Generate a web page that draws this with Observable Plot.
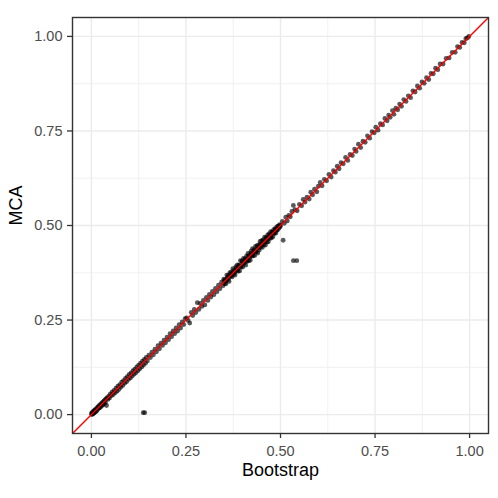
<!DOCTYPE html>
<html>
<head>
<meta charset="utf-8">
<script src="https://cdn.jsdelivr.net/npm/d3@7"></script>
<script src="https://cdn.jsdelivr.net/npm/@observablehq/plot@0.6"></script>
<style>
  html, body { margin: 0; padding: 0; background: #fff; }
  #chart svg { display: block; }
  #chart g[aria-label="x-axis tick label"], #chart g[aria-label="y-axis tick label"] { font-size: 14.5px; }
</style>
</head>
<body>
<div id="chart"></div>
<script>
// Estimated values (Bootstrap vs MCA), by stretch of the diagonal
const bootstrapA = [0.000,0.001,0.002,0.003,0.004,0.005,0.006,0.007,0.008,0.009,0.010,0.012,0.013,0.014,0.016,0.017,0.018,0.020,0.021,0.022,0.024,0.025,0.027,0.028,0.030,0.031,0.033,0.034,0.036,0.037,0.039,0.040,0.042,0.044,0.046,0.048];
const mcaA       = [0.003,0.000,0.005,0.001,0.007,0.003,0.009,0.004,0.011,0.006,0.013,0.008,0.016,0.010,0.019,0.014,0.021,0.017,0.024,0.018,0.027,0.021,0.030,0.024,0.033,0.026,0.036,0.029,0.039,0.032,0.042,0.024,0.045,0.040,0.049,0.044];

const bootstrapB = [0.050,0.053,0.055,0.058,0.060,0.063,0.065,0.068,0.070,0.073,0.075,0.078,0.080,0.083,0.085,0.088,0.090,0.093,0.095,0.098,0.100,0.103,0.105,0.108,0.110,0.113,0.115,0.118,0.120,0.123,0.125,0.128,0.130,0.133,0.135,0.138,0.140,0.143,0.145,0.148];
const mcaB       = [0.055,0.050,0.060,0.053,0.064,0.058,0.070,0.062,0.075,0.067,0.079,0.073,0.086,0.077,0.090,0.083,0.096,0.087,0.100,0.093,0.106,0.097,0.110,0.102,0.116,0.107,0.120,0.111,0.126,0.116,0.131,0.121,0.136,0.126,0.141,0.131,0.146,0.136,0.151,0.142];

const bootstrapC = [0.152,0.156,0.160,0.164,0.168,0.172,0.176,0.180,0.184,0.188,0.192,0.196,0.200,0.204,0.208,0.212,0.216,0.220,0.224,0.228,0.232,0.236,0.240,0.244,0.248,0.252,0.256,0.260,0.264,0.268,0.272,0.276,0.280,0.284,0.288,0.292,0.296,0.300,0.304,0.308,0.312,0.316,0.320,0.324,0.328,0.332,0.336,0.340,0.344,0.348];
const mcaC       = [0.157,0.151,0.165,0.158,0.173,0.166,0.182,0.174,0.189,0.183,0.197,0.190,0.205,0.198,0.214,0.206,0.221,0.214,0.229,0.221,0.238,0.229,0.245,0.238,0.254,0.256,0.249,0.242,0.270,0.262,0.278,0.270,0.296,0.278,0.294,0.286,0.302,0.290,0.310,0.302,0.318,0.311,0.326,0.317,0.334,0.325,0.342,0.333,0.350,0.341];

const bootstrapD = [0.350,0.352,0.354,0.356,0.358,0.360,0.362,0.364,0.366,0.368,0.370,0.372,0.374,0.376,0.378,0.380,0.382,0.384,0.386,0.388,0.390,0.392,0.394,0.396,0.398,0.400,0.402,0.404,0.406,0.408,0.410,0.412,0.414,0.416,0.418,0.420,0.422,0.424,0.426,0.428,0.430,0.432,0.434,0.436,0.438,0.440,0.442,0.444,0.446,0.448,0.450,0.452,0.454,0.456,0.458,0.460,0.462,0.464,0.466,0.468,0.470,0.472,0.474,0.476,0.478,0.480,0.482,0.484,0.486,0.488,0.490,0.492,0.494,0.496,0.498,0.500];
const mcaD       = [0.358,0.346,0.357,0.346,0.369,0.356,0.368,0.352,0.375,0.366,0.377,0.364,0.386,0.371,0.382,0.369,0.391,0.381,0.396,0.379,0.395,0.380,0.407,0.390,0.406,0.390,0.413,0.400,0.412,0.395,0.419,0.405,0.426,0.407,0.422,0.408,0.432,0.419,0.439,0.420,0.436,0.421,0.445,0.430,0.447,0.427,0.449,0.435,0.458,0.444,0.460,0.442,0.462,0.449,0.469,0.448,0.468,0.456,0.475,0.457,0.478,0.466,0.484,0.467,0.483,0.470,0.489,0.479,0.492,0.480,0.496,0.488,0.499,0.493,0.502,0.500];

const bootstrapD2 = [0.351,0.355,0.359,0.363,0.367,0.371,0.375,0.379,0.383,0.387,0.391,0.395,0.399,0.403,0.407,0.411,0.415,0.419,0.423,0.427,0.431,0.435,0.439,0.443,0.447,0.451,0.455,0.459,0.463,0.467,0.471,0.475,0.479,0.483,0.487,0.491,0.495,0.499];
const mcaD2       = [0.354,0.352,0.362,0.360,0.371,0.368,0.378,0.376,0.387,0.384,0.394,0.392,0.403,0.400,0.410,0.407,0.419,0.416,0.427,0.424,0.434,0.432,0.443,0.440,0.451,0.448,0.458,0.456,0.467,0.464,0.474,0.472,0.482,0.480,0.490,0.488,0.498,0.497];

const bootstrapE = [0.505,0.510,0.514,0.518,0.522,0.526,0.530,0.534,0.538,0.544,0.550,0.556,0.560,0.565,0.570,0.576,0.580,0.585,0.590,0.596,0.600,0.605,0.610,0.616,0.622,0.628,0.634,0.640,0.645,0.650,0.655,0.660,0.666,0.672,0.678,0.684,0.690,0.696,0.700,0.706,0.712,0.718,0.724,0.730,0.736,0.742,0.748,0.752,0.758,0.764,0.770,0.776,0.782,0.786,0.790,0.796,0.800,0.805,0.810,0.815,0.820,0.826,0.832,0.838,0.844,0.850,0.856,0.862,0.868,0.874,0.880,0.886,0.892,0.898,0.904,0.910,0.916,0.922,0.930,0.938,0.946,0.954,0.962,0.968,0.974,0.980,0.986,0.990,0.994,0.998];
const mcaE       = [0.511,0.506,0.522,0.512,0.527,0.523,0.537,0.553,0.542,0.539,0.556,0.552,0.569,0.562,0.575,0.570,0.588,0.581,0.596,0.589,0.604,0.614,0.605,0.622,0.618,0.635,0.628,0.645,0.641,0.657,0.650,0.666,0.663,0.680,0.672,0.688,0.685,0.702,0.696,0.715,0.706,0.723,0.720,0.737,0.731,0.748,0.745,0.760,0.752,0.769,0.766,0.783,0.777,0.792,0.786,0.804,0.794,0.810,0.806,0.821,0.815,0.833,0.828,0.843,0.838,0.856,0.853,0.869,0.863,0.880,0.876,0.891,0.886,0.902,0.901,0.916,0.912,0.927,0.927,0.942,0.943,0.958,0.958,0.973,0.971,0.984,0.983,0.994,0.996,1.000];

const bootstrapOut = [0.137,0.141,0.507,0.534,0.543];
const mcaOut       = [0.005,0.005,0.461,0.407,0.407];

const majorTicks = [0, 0.25, 0.5, 0.75, 1];
const minorTicks = [0.125, 0.375, 0.625, 0.875];
const domainXY = [-0.05, 1.05];

const bootstrap = [].concat(bootstrapA, bootstrapB, bootstrapC, bootstrapD, bootstrapD2, bootstrapE, bootstrapOut);
const mca = [].concat(mcaA, mcaB, mcaC, mcaD, mcaD2, mcaE, mcaOut);
const points = bootstrap.map((b, i) => ({bootstrap: b, mca: mca[i]}));
const fmt = d3.format(".2f");

const chart = Plot.plot({
  width: 498,
  height: 498,
  marginLeft: 72,
  marginRight: 10,
  marginTop: 17,
  marginBottom: 65,
  style: {fontFamily: "'Liberation Sans', Arial, sans-serif", background: "#fff"},
  x: {domain: domainXY},
  y: {domain: domainXY},
  marks: [
    Plot.gridX(minorTicks, {stroke: "#ebebeb", strokeOpacity: 1, strokeWidth: 0.7}),
    Plot.gridY(minorTicks, {stroke: "#ebebeb", strokeOpacity: 1, strokeWidth: 0.7}),
    Plot.gridX(majorTicks, {stroke: "#ebebeb", strokeOpacity: 1, strokeWidth: 1.4}),
    Plot.gridY(majorTicks, {stroke: "#ebebeb", strokeOpacity: 1, strokeWidth: 1.4}),
    Plot.dot(points, {x: "bootstrap", y: "mca", r: 2.4, fill: "black", fillOpacity: 0.65, stroke: "none"}),
    Plot.link([domainXY], {x1: d => d[0], y1: d => d[0], x2: d => d[1], y2: d => d[1], stroke: "#ff0000", strokeWidth: 1.4, clip: true}),
    Plot.frame({stroke: "#333333", strokeWidth: 1.4}),
    Plot.axisX(majorTicks, {tickSize: 5, tickPadding: 7, tickFormat: fmt, fontSize: 14.5, color: "#4d4d4d", stroke: "#333333", strokeWidth: 1.3, label: null}),
    Plot.axisY(majorTicks, {tickSize: 5, tickPadding: 5, tickFormat: fmt, fontSize: 14.5, color: "#4d4d4d", stroke: "#333333", strokeWidth: 1.3, label: null}),
    Plot.text(["Bootstrap"], {frameAnchor: "bottom", dy: 37, fontSize: 18, fill: "black", lineAnchor: "middle"}),
    Plot.text(["MCA"], {frameAnchor: "left", dx: -56, fontSize: 18, fill: "black", rotate: -90, lineAnchor: "middle"})
  ]
});
document.getElementById("chart").appendChild(chart);
</script>
</body>
</html>
